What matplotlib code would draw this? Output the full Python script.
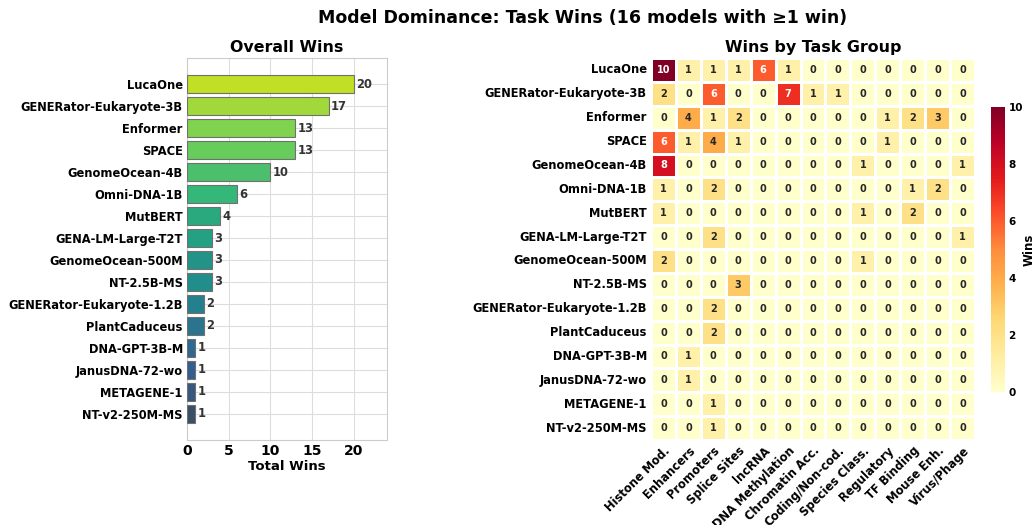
import numpy as np
import matplotlib
matplotlib.use("Agg")
import matplotlib.pyplot as plt
import seaborn as sns

models = ["LucaOne", "GENERator-Eukaryote-3B", "Enformer", "SPACE", "GenomeOcean-4B",
          "Omni-DNA-1B", "MutBERT", "GENA-LM-Large-T2T", "GenomeOcean-500M", "NT-2.5B-MS",
          "GENERator-Eukaryote-1.2B", "PlantCaduceus", "DNA-GPT-3B-M", "JanusDNA-72-wo",
          "METAGENE-1", "NT-v2-250M-MS"]
total_wins = [20, 17, 13, 13, 10, 6, 4, 3, 3, 3, 2, 2, 1, 1, 1, 1]

task_groups = ["Histone Mod.", "Enhancers", "Promoters", "Splice Sites", "lncRNA",
               "DNA Methylation", "Chromatin Acc.", "Coding/Non-cod.", "Species Class.",
               "Regulatory", "TF Binding", "Mouse Enh.", "Virus/Phage"]

wins_LucaOne        = [10, 1, 1, 1, 6, 1, 0, 0, 0, 0, 0, 0, 0]
wins_GENERator_3B   = [2, 0, 6, 0, 0, 7, 1, 1, 0, 0, 0, 0, 0]
wins_Enformer       = [0, 4, 1, 2, 0, 0, 0, 0, 0, 1, 2, 3, 0]
wins_SPACE          = [6, 1, 4, 1, 0, 0, 0, 0, 0, 1, 0, 0, 0]
wins_GenomeOcean_4B = [8, 0, 0, 0, 0, 0, 0, 0, 1, 0, 0, 0, 1]
wins_Omni_DNA       = [1, 0, 2, 0, 0, 0, 0, 0, 0, 0, 1, 2, 0]
wins_MutBERT        = [1, 0, 0, 0, 0, 0, 0, 0, 1, 0, 2, 0, 0]
wins_GENA_LM        = [0, 0, 2, 0, 0, 0, 0, 0, 0, 0, 0, 0, 1]
wins_GO_500M        = [2, 0, 0, 0, 0, 0, 0, 0, 1, 0, 0, 0, 0]
wins_NT_25B         = [0, 0, 0, 3, 0, 0, 0, 0, 0, 0, 0, 0, 0]
wins_GENERator_12B  = [0, 0, 2, 0, 0, 0, 0, 0, 0, 0, 0, 0, 0]
wins_PlantCaduceus  = [0, 0, 2, 0, 0, 0, 0, 0, 0, 0, 0, 0, 0]
wins_DNA_GPT        = [0, 1, 0, 0, 0, 0, 0, 0, 0, 0, 0, 0, 0]
wins_JanusDNA       = [0, 1, 0, 0, 0, 0, 0, 0, 0, 0, 0, 0, 0]
wins_METAGENE       = [0, 0, 1, 0, 0, 0, 0, 0, 0, 0, 0, 0, 0]
wins_NT_v2          = [0, 0, 1, 0, 0, 0, 0, 0, 0, 0, 0, 0, 0]

matrix = np.array([wins_LucaOne, wins_GENERator_3B, wins_Enformer, wins_SPACE,
                   wins_GenomeOcean_4B, wins_Omni_DNA, wins_MutBERT, wins_GENA_LM,
                   wins_GO_500M, wins_NT_25B, wins_GENERator_12B, wins_PlantCaduceus,
                   wins_DNA_GPT, wins_JanusDNA, wins_METAGENE, wins_NT_v2])

plt.rcParams['font.family'] = ['DejaVu Sans']

fig = plt.figure(figsize=(10.36, 5.25), dpi=100)

TICK_FS = 8.3

# ---- Left: bar chart ----
ax1 = fig.add_axes([187/1036, 1-440/525, 200/1036, 382/525])
n = len(models)
bar_cmap = matplotlib.colors.LinearSegmentedColormap.from_list(
    "bars", ['#c0df25', '#a2d93a', '#7fd34e', '#66cc5c', '#4bbf6b', '#35b779',
             '#2aa97f', '#24a083', '#229487', '#218e8c', '#25808e', '#2b748e',
             '#2f6890', '#335e8f', '#375780', '#3a4f66'])
colors = bar_cmap(np.linspace(0, 1, n))
y = np.arange(n)
ax1.barh(y, total_wins, height=0.8, color=colors, edgecolor='#707070',
         linewidth=0.8, zorder=3)
ax1.invert_yaxis()
ax1.set_xlim(0, 24)
ax1.set_yticks(y)
ax1.set_yticklabels(models, fontsize=TICK_FS, fontweight='bold')
ax1.set_xticks([0, 5, 10, 15, 20])
for lbl in ax1.get_xticklabels():
    lbl.set_fontweight('bold')
    lbl.set_fontsize(10)
ax1.set_xlabel("Total Wins", fontsize=9.5, fontweight='bold', labelpad=1)
ax1.set_title("Overall Wins", fontsize=11.4, fontweight='bold', pad=4)
ax1.grid(True, color='#dddddd', linewidth=0.8, zorder=0)
ax1.set_axisbelow(True)
ax1.tick_params(length=0, pad=3)
for s in ax1.spines.values():
    s.set_color('#cccccc')
for yi, v in zip(y, total_wins):
    ax1.text(v + 0.25, yi, str(v), va='center', ha='left', fontsize=8.3,
             fontweight='bold', color='#333333')

# ---- Right: heatmap ----
ax2 = fig.add_axes([651/1036, 1-440/525, 324/1036, 382/525])
cax = fig.add_axes([991/1036, 1-392/525, 14/1036, 285/525])
sns.heatmap(matrix, ax=ax2, cbar_ax=cax, cmap='YlOrRd', vmin=0, vmax=10,
            annot=True, fmt='d', linewidths=0.8, linecolor='white',
            annot_kws={'fontsize': 7, 'fontweight': 'bold'},
            xticklabels=task_groups, yticklabels=models)
ax2.set_title("Wins by Task Group", fontsize=11.4, fontweight='bold', pad=4)
ax2.set_yticklabels(models, fontsize=TICK_FS, fontweight='bold', rotation=0)
ax2.set_xticklabels(task_groups, fontsize=TICK_FS, fontweight='bold', rotation=45,
                    ha='right', rotation_mode='anchor')
ax2.tick_params(length=0, pad=3)
cax.tick_params(labelsize=7.5, length=0, pad=2.5)
for lbl in cax.get_yticklabels():
    lbl.set_fontweight('bold')
cax.set_ylabel("Wins", fontsize=8.5, fontweight='bold', labelpad=0)

fig.text(583/1036, 1-18/525, "Model Dominance: Task Wins (16 models with \u22651 win)",
         ha='center', va='center', fontsize=12.5, fontweight='bold')

fig.savefig("out.png", dpi=100)
